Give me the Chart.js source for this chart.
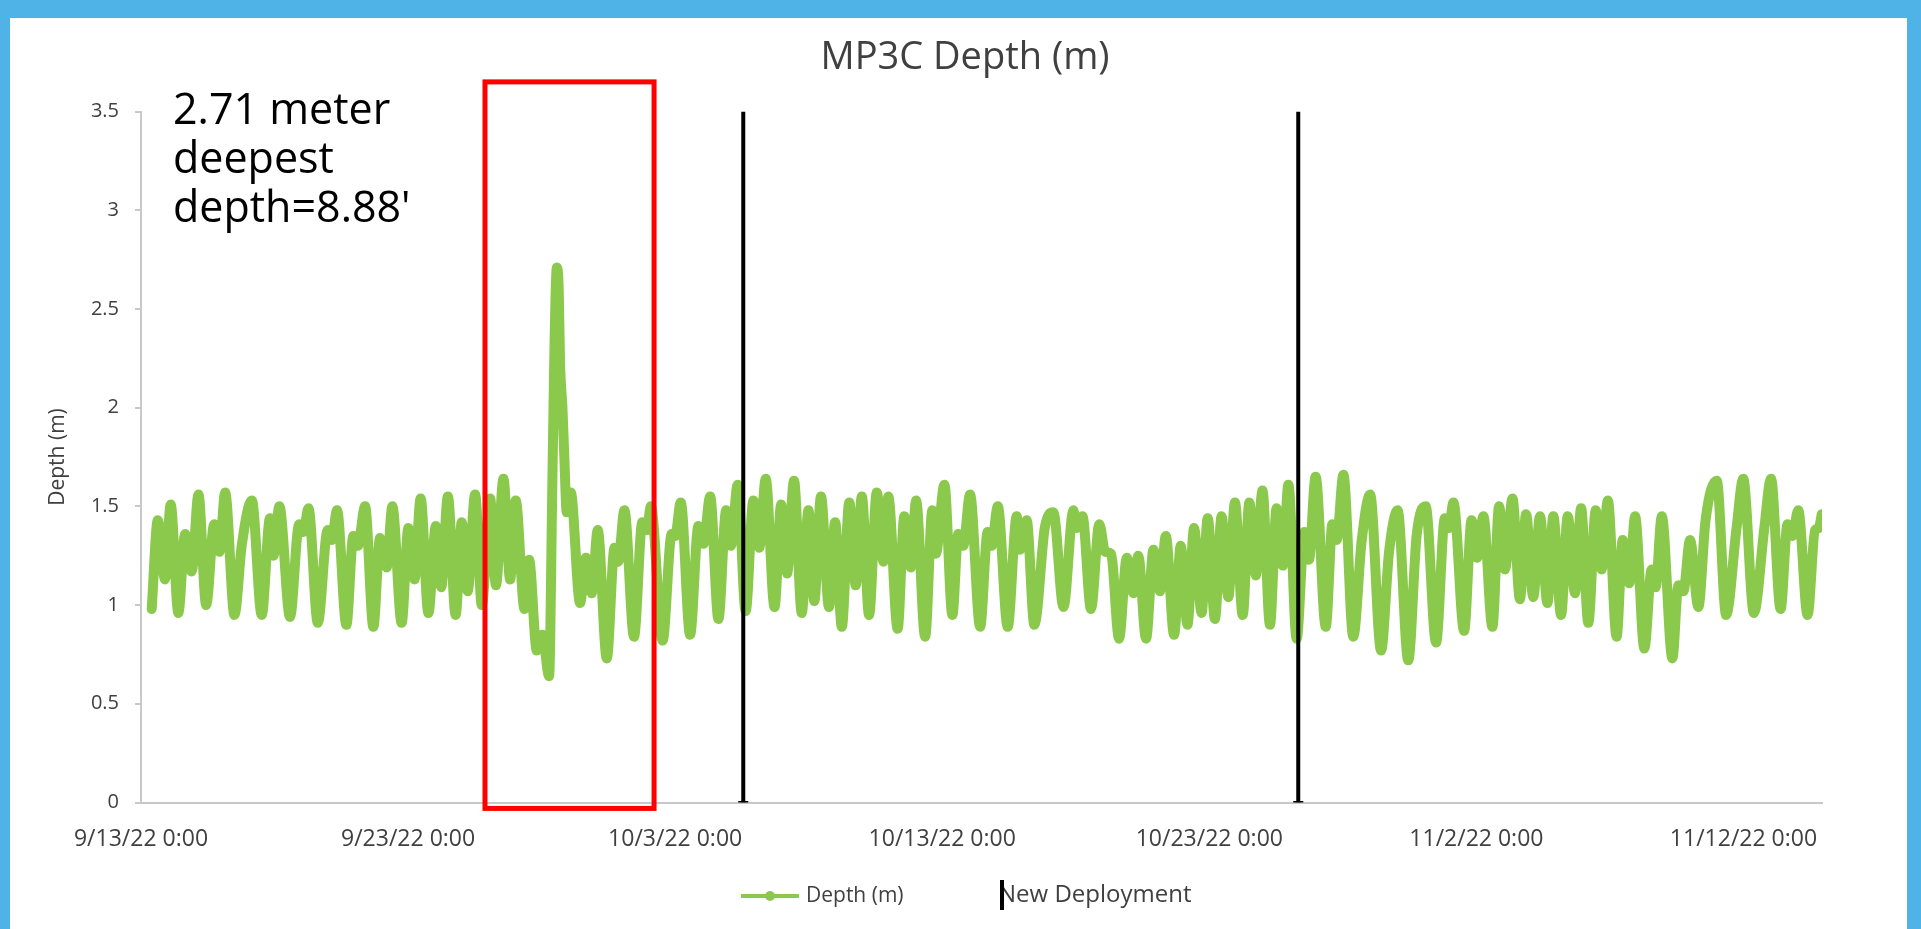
<!DOCTYPE html>
<html>
<head>
<meta charset="utf-8">
<title>MP3C Depth (m)</title>
<script src="https://cdn.jsdelivr.net/npm/chart.js@4.4.0/dist/chart.umd.min.js"></script>
<style>
    html, body { margin: 0; padding: 0; background: #fff; overflow: hidden; }
    #page { position: relative; width: 1921px; height: 929px; font-family: 'Open Sans', sans-serif; }
    #chart-box { position: absolute; left: 0; top: 0; width: 1921px; height: 929px; }
    #frame {
        position: absolute; left: 0; top: 0; width: 1921px; height: 929px; box-sizing: border-box;
        border-top: 18px solid #4FB3E8; border-left: 10px solid #4FB3E8; border-right: 14px solid #4FB3E8;
        pointer-events: none;
    }
    .txt { position: absolute; white-space: nowrap; }
    #title { left: 965px; top: 35px; transform: translateX(-50%); font-size: 38px; line-height: 38px; color: #404040; }
    #note { left: 173px; top: 83px; font-size: 43px; line-height: 49px; color: #000; }
    .legend-text { font-size: 21px; line-height: 21px; color: #404040; top: 884px; }
</style>
</head>
<body>
<div id="page">
    <div id="chart-box"><canvas id="depthChart"></canvas></div>
    <div class="txt" id="title">MP3C Depth (m)</div>
    <div class="txt" id="note">2.71 meter<br>deepest<br>depth=8.88'</div>

    <div style="position:absolute;left:741px;top:894px;width:58px;height:4px;background:#8BC94C;"></div>
    <div style="position:absolute;left:765px;top:891px;width:10px;height:10px;border-radius:50%;background:#8BC94C;"></div>
    <div class="txt legend-text" style="left:806px;">Depth (m)</div>
    <div class="txt legend-text" style="left:998px;font-size:24px;line-height:24px;top:881px;">New Deployment</div>
    <div style="position:absolute;left:1000px;top:880px;width:4px;height:30px;background:#000;"></div>

    <div id="frame"></div>
</div>

<script>
// x values are days since 9/13/22 0:00
const xTickDays = [0, 10, 20, 30, 40, 50, 60];
const xTickLabels = ['9/13/22 0:00', '9/23/22 0:00', '10/3/22 0:00', '10/13/22 0:00',
                     '10/23/22 0:00', '11/2/22 0:00', '11/12/22 0:00'];
const yTickValues = [0, 0.5, 1, 1.5, 2, 2.5, 3, 3.5];
const yTickLabels = ['0', '0.5', '1', '1.5', '2', '2.5', '3', '3.5'];

const depthDays = [
    0.40, 0.63, 0.90, 1.11, 1.40, 1.65, 1.90, 2.15, 2.44, 2.74, 2.94, 3.15, 3.50, 3.77, 4.15, 4.52,
    4.83, 4.96, 5.18, 5.58, 5.92, 6.08, 6.27, 6.62, 6.99, 7.14, 7.34, 7.69, 7.95, 8.12, 8.39, 8.70,
    8.95, 9.20, 9.41, 9.76, 10.01, 10.24, 10.47, 10.76, 11.04, 11.24, 11.49, 11.78, 12.01, 12.23,
    12.51, 12.76, 13.07, 13.29, 13.57, 13.82, 14.03, 14.36, 14.53, 14.82, 15.03, 15.28, 15.40, 15.48,
    15.57, 15.64, 15.69, 15.78, 15.85, 15.94, 16.09, 16.44, 16.66, 16.88, 17.10, 17.44, 17.73, 17.87,
    18.10, 18.46, 18.77, 18.94, 19.09, 19.53, 19.87, 20.00, 20.21, 20.56, 20.87, 21.06, 21.31, 21.62,
    21.91, 22.09, 22.34, 22.64, 22.93, 23.15, 23.39, 23.72, 23.97, 24.19, 24.45, 24.74, 24.99, 25.21,
    25.46, 25.76, 25.99, 26.24, 26.52, 26.76, 26.99, 27.26, 27.55, 27.80, 27.98, 28.33, 28.58, 28.83,
    29.02, 29.36, 29.63, 29.76, 30.08, 30.38, 30.60, 30.79, 31.04, 31.42, 31.70, 31.85, 32.08, 32.45,
    32.79, 32.91, 33.16, 33.45, 33.85, 34.16, 34.54, 34.91, 35.03, 35.25, 35.57, 35.88, 36.10, 36.32,
    36.62, 36.91, 37.16, 37.34, 37.63, 37.91, 38.15, 38.37, 38.68, 38.93, 39.18, 39.43, 39.71, 39.94,
    40.21, 40.46, 40.71, 40.96, 41.25, 41.50, 41.74, 41.99, 42.27, 42.52, 42.75, 42.96, 43.27, 43.56,
    43.73, 43.98, 44.36, 44.61, 44.77, 45.02, 45.39, 45.70, 46.02, 46.43, 46.73, 47.05, 47.45, 47.76,
    48.10, 48.49, 48.82, 48.97, 49.14, 49.54, 49.82, 50.03, 50.26, 50.60, 50.85, 51.07, 51.35, 51.63,
    51.86, 52.13, 52.38, 52.66, 52.88, 53.17, 53.42, 53.69, 53.92, 54.19, 54.47, 54.69, 54.92, 55.25,
    55.48, 55.73, 55.94, 56.29, 56.56, 56.71, 56.94, 57.34, 57.56, 57.75, 58.00, 58.31, 58.58, 59.00,
    59.35, 59.74, 59.99, 60.39, 60.78, 61.03, 61.39, 61.65, 61.83, 62.05, 62.40, 62.68, 62.82, 62.93
];
const depthValues = [
    0.98, 1.43, 1.13, 1.51, 0.96, 1.36, 1.17, 1.56, 1.00, 1.41, 1.27, 1.57, 0.95, 1.30, 1.53, 0.95,
    1.44, 1.25, 1.50, 0.94, 1.41, 1.37, 1.49, 0.91, 1.38, 1.33, 1.48, 0.90, 1.35, 1.30, 1.50, 0.89,
    1.34, 1.19, 1.50, 0.91, 1.39, 1.13, 1.54, 0.96, 1.40, 1.09, 1.55, 0.95, 1.42, 1.07,
    1.56, 1.00, 1.54, 1.10, 1.64, 1.13, 1.53, 0.98, 1.23, 0.77, 0.85, 0.64, 1.60, 2.30,
    2.71, 2.60, 2.23, 2.00, 1.75, 1.47, 1.57, 1.01, 1.24, 1.06, 1.38, 0.73, 1.29, 1.22,
    1.48, 0.84, 1.42, 1.38, 1.50, 0.82, 1.36, 1.35, 1.52, 0.85, 1.40, 1.31, 1.55, 0.93,
    1.48, 1.30, 1.61, 0.97, 1.53, 1.29, 1.64, 0.99, 1.51, 1.16, 1.63, 0.96, 1.48, 1.02,
    1.55, 0.99, 1.42, 0.89, 1.52, 1.10, 1.55, 0.95, 1.57, 1.22, 1.55, 0.88, 1.45, 1.19,
    1.53, 0.84, 1.48, 1.26, 1.61, 0.95, 1.36, 1.30, 1.56, 0.89, 1.37, 1.30, 1.50, 0.89,
    1.45, 1.28, 1.43, 0.90, 1.40, 1.47, 0.99, 1.48, 1.39, 1.45, 0.98, 1.41, 1.27, 1.26,
    0.83, 1.24, 1.06, 1.25, 0.83, 1.28, 1.07, 1.35, 0.85, 1.30, 0.90, 1.39, 0.96, 1.44,
    0.93, 1.45, 1.04, 1.52, 0.95, 1.52, 1.15, 1.58, 0.90, 1.49, 1.20, 1.61, 0.83, 1.37,
    1.23, 1.65, 0.89, 1.41, 1.33, 1.66, 0.84, 1.32, 1.56, 0.77, 1.27, 1.48, 0.72, 1.35,
    1.50, 0.81, 1.44, 1.39, 1.52, 0.87, 1.43, 1.24, 1.45, 0.89, 1.50, 1.18, 1.54, 1.03,
    1.46, 1.04, 1.45, 1.01, 1.45, 0.95, 1.45, 1.06, 1.49, 0.91, 1.48, 1.18, 1.53, 0.84,
    1.33, 1.11, 1.45, 0.78, 1.18, 1.09, 1.45, 0.73, 1.10, 1.07, 1.33, 0.99, 1.43, 1.63,
    0.95, 1.39, 1.64, 0.96, 1.39, 1.64, 0.98, 1.41, 1.35, 1.48, 0.95, 1.38, 1.39, 1.46
];

const deploymentDays = [22.55, 43.33];
const deploymentDepths = [0, 3.5];

// red highlight box round the spike, in data units
const highlightDays = [12.88, 19.21];
const highlightDepths = [-0.03, 3.65];

const green = '#8BC94C';
const axisGrey = '#C8C8C8';
const textGrey = '#404040';

Chart.defaults.font.family = "'Open Sans', sans-serif";
Chart.defaults.color = textGrey;

const depthPoints = depthDays.map((d, i) => ({ x: d, y: depthValues[i] }));

const deploymentSets = deploymentDays.map(d => ({
    label: 'New Deployment',
    data: deploymentDepths.map(v => ({ x: d, y: v })),
    borderColor: '#000',
    backgroundColor: '#000',
    borderWidth: 4,
    pointStyle: 'line',
    pointRadius: [5, 0],
    pointBorderWidth: 3,
    pointBorderColor: '#000',
    order: 0
}));

const highlightBox = {
    id: 'highlightBox',
    afterDatasetsDraw(chart) {
        const { ctx, scales: { x, y } } = chart;
        const left = x.getPixelForValue(highlightDays[0]);
        const right = x.getPixelForValue(highlightDays[1]);
        const top = y.getPixelForValue(highlightDepths[1]);
        const bottom = y.getPixelForValue(highlightDepths[0]);
        ctx.save();
        ctx.strokeStyle = '#FF0000';
        ctx.lineWidth = 5;
        ctx.strokeRect(left, top, right - left, bottom - top);
        ctx.restore();
    }
};

new Chart(document.getElementById('depthChart'), {
    type: 'line',
    data: {
        datasets: [
            {
                label: 'Depth (m)',
                data: depthPoints,
                borderColor: green,
                backgroundColor: green,
                borderWidth: 10,
                borderJoinStyle: 'round',
                borderCapStyle: 'round',
                pointRadius: 0,
                tension: 0.4,
                cubicInterpolationMode: 'monotone',
                order: 1
            },
            ...deploymentSets
        ]
    },
    options: {
        responsive: true,
        maintainAspectRatio: false,
        animation: false,
        layout: { padding: { left: 20, right: 99, top: 111.5, bottom: 20 } },
        plugins: {
            legend: { display: false },
            tooltip: { enabled: false },
            title: { display: false }
        },
        scales: {
            x: {
                type: 'linear',
                min: 0,
                max: 62.94,
                afterBuildTicks: axis => { axis.ticks = xTickDays.map(v => ({ value: v })); },
                afterFit: scale => { scale.height = 106.5; },
                grid: { display: false, drawTicks: false },
                border: { display: true, color: axisGrey, width: 2 },
                ticks: {
                    autoSkip: false,
                    maxRotation: 0,
                    padding: 23,
                    font: { size: 23 },
                    callback: v => xTickLabels[xTickDays.indexOf(v)]
                }
            },
            y: {
                min: 0,
                max: 3.5,
                afterBuildTicks: axis => { axis.ticks = yTickValues.map(v => ({ value: v })); },
                afterFit: scale => { scale.width = 121; },
                grid: { display: true, drawOnChartArea: false, drawTicks: true, tickLength: 6, color: axisGrey, lineWidth: 2 },
                border: { display: true, color: axisGrey, width: 2 },
                ticks: {
                    padding: 16,
                    font: { size: 20 },
                    callback: v => yTickLabels[yTickValues.indexOf(v)]
                },
                title: {
                    display: true,
                    text: 'Depth (m)',
                    font: { size: 21 },
                    padding: { top: 25, bottom: 0 }
                }
            }
        }
    },
    plugins: [highlightBox]
});
</script>
</body>
</html>
